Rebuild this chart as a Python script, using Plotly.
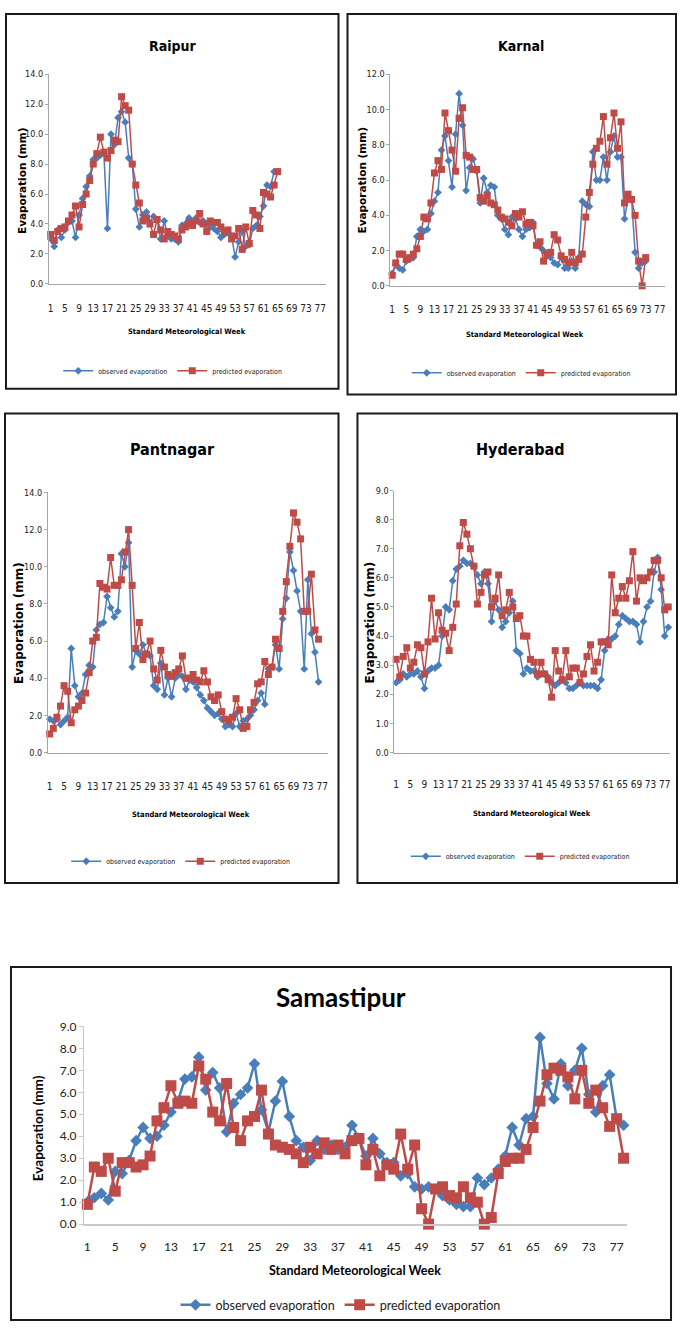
import plotly.graph_objects as go

W, H = 680, 1331
BLUE = "#4A7EBB"
RED = "#BE4B48"
NARROW = "DejaVu Sans Condensed, Liberation Sans Narrow, Roboto, sans-serif"
WIDEB = "DejaVu Sans, Verdana, sans-serif"
CAL = "Lato, Carlito, Calibri, sans-serif"

week_ticks = list(range(1, 78, 4))
week_tick_text = [str(w) for w in week_ticks]

raipur_observed = [3.0, 2.5, 3.6, 3.1, 3.6, 4.1, 4.2, 3.1, 4.6, 5.7,
                   6.5, 7.2, 8.3, 8.4, 8.6, 8.7, 3.7, 10.0, 9.3, 11.1,
                   11.5, 10.8, 8.4, 8.0, 5.0, 3.8, 4.6, 4.8, 4.1, 4.5,
                   4.3, 3.0, 4.2, 3.2, 3.0, 3.0, 2.8, 3.9, 4.0, 4.4,
                   4.1, 4.4, 4.1, 4.2, 4.0, 3.8, 3.7, 3.5, 3.1, 3.3,
                   3.4, 3.2, 1.8, 2.8, 3.5, 2.5, 2.6, 3.7, 3.9, 4.5,
                   5.2, 6.6, 6.5, 7.5, 7.5]
raipur_predicted = [3.3, 2.9, 3.5, 3.7, 3.8, 4.2, 4.6, 5.2, 3.8, 5.3,
                    6.0, 6.9, 8.0, 8.7, 9.8, 8.8, 8.4, 8.9, 9.6, 9.5,
                    12.5, 11.9, 11.6, 8.0, 6.6, 5.4, 4.2, 4.4, 4.0, 3.3,
                    4.3, 3.6, 3.0, 3.5, 3.3, 3.2, 3.0, 3.6, 3.8, 4.1,
                    3.9, 4.2, 4.7, 4.0, 3.5, 4.2, 4.1, 4.1, 3.8, 3.5,
                    3.6, 3.0, 3.2, 3.7, 2.3, 3.8, 2.7, 4.9, 4.6, 3.7,
                    6.1, 6.0, 5.8, 6.6, 7.5]

karnal_observed = [0.7, 1.2, 1.0, 0.9, 1.4, 1.5, 1.6, 2.8, 3.2, 3.1,
                   3.2, 4.1, 4.8, 5.3, 7.7, 8.5, 7.1, 5.6, 8.6, 10.9,
                   9.1, 5.4, 6.7, 7.2, 6.5, 4.7, 6.1, 5.3, 5.7, 5.6,
                   4.0, 3.8, 3.2, 2.9, 3.9, 3.8, 3.2, 2.8, 3.2, 3.3,
                   3.6, 2.3, 2.2, 2.0, 1.7, 1.6, 1.3, 1.2, 1.6, 1.0,
                   1.0, 1.4, 1.0, 1.6, 4.8, 4.6, 4.5, 7.6, 6.0, 6.0,
                   7.3, 6.0, 7.6, 8.5, 7.3, 7.3, 3.8, 5.0, 4.9, 1.9,
                   1.0, 1.3, 1.4]
karnal_predicted = [0.6, 1.3, 1.8, 1.8, 1.5, 1.6, 1.8, 2.1, 2.8, 3.9,
                    3.8, 4.7, 6.4, 7.1, 6.6, 9.8, 8.8, 7.7, 6.5, 9.5,
                    10.1, 7.4, 7.3, 6.6, 6.6, 5.0, 4.8, 5.1, 4.7, 4.6,
                    4.3, 3.9, 3.8, 3.6, 3.4, 4.1, 3.9, 4.2, 3.5, 3.6,
                    3.4, 2.3, 2.5, 1.4, 1.8, 1.9, 2.9, 2.6, 1.7, 1.5,
                    1.3, 1.9, 1.3, 1.5, 1.8, 3.9, 5.3, 6.9, 7.8, 8.2,
                    9.6, 6.9, 8.4, 9.8, 7.8, 9.3, 4.7, 5.2, 4.9, 4.0,
                    1.4, 0.0, 1.6]

pantnagar_observed = [1.8, 1.7, 1.8, 1.5, 1.7, 1.9, 5.6, 3.6, 3.0, 3.2,
                      4.2, 4.7, 4.6, 6.6, 6.9, 7.0, 8.4, 7.8, 7.3, 7.6,
                      10.7, 10.0, 11.3, 4.6, 5.5, 5.3, 5.8, 5.3, 5.2, 3.6,
                      3.4, 4.8, 3.1, 4.0, 3.0, 4.0, 4.2, 4.1, 3.4, 3.9,
                      3.8, 3.5, 3.1, 2.8, 2.4, 2.2, 2.0, 2.1, 1.8, 1.4,
                      1.5, 1.4, 2.1, 1.4, 1.7, 1.8, 2.0, 2.3, 2.8, 3.2,
                      2.6, 4.5, 4.6, 5.8, 4.5, 7.2, 8.3, 10.8, 9.8, 8.7,
                      7.6, 4.5, 9.3, 6.4, 5.4, 3.8]
pantnagar_predicted = [1.0, 1.3, 1.9, 2.5, 3.6, 3.3, 1.6, 2.3, 2.5, 2.8,
                       3.2, 4.3, 6.0, 6.2, 9.1, 8.9, 8.8, 10.5, 9.0, 9.0,
                       9.3, 10.8, 12.0, 9.0, 5.6, 7.0, 5.0, 5.3, 6.0, 4.5,
                       3.9, 5.5, 4.6, 4.2, 4.1, 4.3, 4.5, 5.2, 4.0, 4.0,
                       4.2, 3.9, 3.8, 4.4, 3.8, 3.0, 2.8, 3.1, 2.2, 1.8,
                       1.7, 1.9, 2.9, 2.3, 1.3, 1.4, 2.3, 2.7, 3.7, 3.8,
                       4.9, 4.2, 4.6, 6.1, 5.6, 7.6, 9.2, 11.1, 12.9, 12.4,
                       11.5, 7.6, 7.6, 9.6, 6.6, 6.1]

hyderabad_observed = [2.4, 2.5, 2.7, 2.6, 2.7, 2.7, 2.8, 2.6, 2.2, 2.8,
                      2.9, 2.9, 3.0, 4.0, 5.0, 4.9, 5.9, 6.3, 6.4, 6.6,
                      6.5, 6.5, 6.4, 6.1, 5.8, 6.2, 5.8, 4.5, 5.2, 4.9,
                      4.3, 4.5, 4.8, 5.2, 3.5, 3.4, 2.7, 2.9, 2.8, 2.8,
                      2.6, 2.7, 2.7, 2.6, 2.4, 2.3, 2.4, 2.5, 2.4, 2.2,
                      2.2, 2.3, 2.4, 2.3, 2.3, 2.3, 2.3, 2.2, 2.5, 3.5,
                      3.9, 3.9, 4.0, 4.4, 4.7, 4.6, 4.5, 4.5, 4.4, 3.8,
                      4.5, 5.0, 5.2, 6.2, 6.7, 5.6, 4.0, 4.3]
hyderabad_predicted = [3.2, 2.6, 3.3, 3.6, 2.9, 3.1, 3.7, 3.6, 2.7, 3.8,
                       5.3, 3.9, 4.8, 4.2, 4.1, 3.5, 4.3, 5.1, 7.1, 7.9,
                       7.5, 7.0, 6.4, 5.1, 5.5, 6.1, 6.2, 5.0, 5.3, 6.1,
                       4.7, 4.9, 5.5, 5.0, 4.6, 4.7, 4.0, 4.0, 3.2, 3.1,
                       2.7, 3.1, 2.7, 2.5, 1.9, 3.5, 2.8, 2.5, 3.5, 2.6,
                       2.9, 2.9, 2.4, 2.7, 3.3, 3.7, 2.8, 3.1, 3.8, 3.8,
                       3.7, 6.1, 4.8, 5.3, 5.7, 5.3, 5.9, 6.9, 5.2, 6.0,
                       5.9, 6.0, 6.2, 6.6, 6.6, 6.0, 4.9, 5.0]

samastipur_observed = [1.0, 1.2, 1.4, 1.1, 2.4, 2.3, 2.9, 3.8, 4.4, 3.9,
                       4.0, 4.5, 5.1, 5.6, 6.6, 6.7, 7.6, 6.1, 6.9, 6.2,
                       4.2, 5.5, 5.9, 6.2, 7.3, 5.2, 4.2, 5.6, 6.5, 4.9,
                       3.8, 3.5, 2.9, 3.8, 3.4, 3.6, 3.4, 3.5, 4.5, 3.9,
                       3.1, 3.9, 3.2, 2.8, 2.8, 2.2, 2.3, 1.7, 1.6, 1.7,
                       1.6, 1.3, 1.1, 0.9, 0.8, 0.8, 2.1, 1.8, 2.1, 2.5,
                       3.1, 4.4, 3.6, 4.8, 4.9, 8.5, 6.4, 5.7, 7.3, 6.3,
                       7.0, 8.0, 5.9, 5.1, 6.3, 6.8, 4.8, 4.5]
samastipur_predicted = [0.9, 2.6, 2.4, 3.0, 1.5, 2.8, 2.8, 2.6, 2.7, 3.1,
                        4.7, 5.3, 6.3, 5.5, 5.6, 5.5, 7.2, 6.6, 5.1, 4.7,
                        6.4, 4.4, 3.8, 4.7, 4.9, 6.1, 4.1, 3.6, 3.5, 3.4,
                        3.2, 2.8, 3.5, 3.2, 3.7, 3.4, 3.6, 3.2, 3.8, 3.9,
                        2.7, 3.4, 2.2, 2.7, 2.5, 4.1, 2.5, 3.6, 0.7, 0.0,
                        1.6, 1.7, 1.3, 1.2, 1.7, 1.2, 1.0, 0.0, 0.3, 2.3,
                        2.85, 3.0, 3.0, 3.4, 4.4, 5.6, 6.8, 7.1, 7.0, 6.7,
                        5.7, 7.0, 5.5, 6.1, 5.3, 4.45, 4.8, 3.0]


def fx(px):
    return px / W


def fy(py):
    return 1 - py / H


small = dict(tfont=NARROW, tsize=10, ytick=9, lw=1.5, ms_o=6, ms_p=7, axcol="#A6A6A6",
             ytfont=WIDEB, xtsize=7.5, lgsize=7, lgfont=NARROW,
             titlefont=NARROW, ticklen=3)
big = dict(tfont=CAL, tsize=12, ytick=12, lw=2.5, ms_o=9, ms_p=11, axcol="#C8C8C8",
           ytfont=CAL, xtsize=12.5, lgsize=12.5, lgfont=CAL,
           titlefont=CAL, ticklen=4)

panels = [
    dict(name="Raipur", obs=raipur_observed, pred=raipur_predicted, ymax=14, dtick=2,
         plot=(48, 325, 67, 279), box=(5, 338, 6, 385), title=(172, 38, 14),
         xtitle=(186, 327), ytitle=(21, 174, 10.5), legend=(172, 367), standoff=15, st=small),
    dict(name="Karnal", obs=karnal_observed, pred=karnal_predicted, ymax=12, dtick=2,
         plot=(390, 665, 67, 281), box=(347, 676, 6, 391), title=(521, 38, 14),
         xtitle=(525, 330), ytitle=(362, 174, 10.5), legend=(521, 369), standoff=14, st=small),
    dict(name="Pantnagar", obs=pantnagar_observed, pred=pantnagar_predicted, ymax=14, dtick=2,
         plot=(47, 327, 490, 753), box=(4, 338, 410, 885), title=(172, 447, 16),
         xtitle=(190, 816), ytitle=(18, 622, 12), legend=(180, 863), standoff=24, st=small),
    dict(name="Hyderabad", obs=hyderabad_observed, pred=hyderabad_predicted, ymax=9, dtick=1,
         plot=(394, 670, 488, 753), box=(357, 677, 410, 885), title=(520, 447, 16),
         xtitle=(532, 815), ytitle=(370, 621, 12), legend=(520, 858), standoff=22, st=small),
    dict(name="Samastipur", obs=samastipur_observed, pred=samastipur_predicted, ymax=9, dtick=1,
         plot=(83, 627, 1030, 1230), box=(10, 671, 970, 1327), title=(340, 1000, 26),
         xtitle=(355, 1277), ytitle=(37, 1133, 13.5), legend=(340, 1312), standoff=11, st=big),
]

fig = go.Figure()
layout = dict(width=W, height=H, margin=dict(l=0, r=0, t=0, b=0),
              paper_bgcolor="white", plot_bgcolor="white", showlegend=True)
annotations = []
shapes = []

for i, p in enumerate(panels, start=1):
    st = p["st"]
    sfx = "" if i == 1 else str(i)
    xa, ya, lg = "x" + sfx, "y" + sfx, "legend" + sfx
    weeks_o = list(range(1, len(p["obs"]) + 1))
    weeks_p = list(range(1, len(p["pred"]) + 1))
    fig.add_trace(go.Scatter(
        x=weeks_o, y=p["obs"], mode="lines+markers", name="observed evaporation",
        line=dict(color=BLUE, width=st["lw"]),
        marker=dict(symbol="diamond", size=st["ms_o"], color=BLUE),
        xaxis=xa, yaxis=ya, legend=lg, cliponaxis=False))
    fig.add_trace(go.Scatter(
        x=weeks_p, y=p["pred"], mode="lines+markers", name="predicted evaporation",
        line=dict(color=RED, width=st["lw"]),
        marker=dict(symbol="square", size=st["ms_p"], color=RED),
        xaxis=xa, yaxis=ya, legend=lg, cliponaxis=False))

    x0, x1, y0, y1 = p["plot"]
    layout["xaxis" + sfx] = dict(
        domain=[fx(x0), fx(x1)], anchor=ya, range=[0.5, 78.5],
        tickmode="array", tickvals=week_ticks, ticktext=week_tick_text,
        showgrid=False, zeroline=False, showline=True, linecolor=st["axcol"],
        linewidth=1.5 if st is big else 1, ticks="",
        tickfont=dict(family=st["tfont"], size=st["tsize"], color="#222222"),
        ticklabelstandoff=p["standoff"], fixedrange=True)
    layout["yaxis" + sfx] = dict(
        domain=[fy(y1), fy(y0)], anchor=xa, range=[0, p["ymax"]],
        dtick=p["dtick"], tick0=0, tickformat=".1f",
        showgrid=False, zeroline=False, showline=True, linecolor=st["axcol"],
        linewidth=1, ticks="outside", ticklen=st["ticklen"], tickcolor=st["axcol"],
        tickfont=dict(family=st["tfont"], size=st["ytick"], color="#222222"),
        fixedrange=True)

    lx, ly = p["legend"]
    layout[lg] = dict(
        orientation="h", x=fx(lx), xanchor="center", y=fy(ly), yanchor="middle",
        font=dict(family=st["lgfont"], size=st["lgsize"], color="#222222"),
        bgcolor="rgba(0,0,0,0)", itemwidth=30, tracegroupgap=0)

    tx, ty, ts = p["title"]
    annotations.append(dict(
        text="<b>%s</b>" % p["name"], x=fx(tx), y=fy(ty), xref="paper", yref="paper",
        showarrow=False, xanchor="center", yanchor="middle",
        font=dict(family=st["titlefont"], size=ts, color="black")))
    xtx, xty = p["xtitle"]
    annotations.append(dict(
        text="<b>Standard Meteorological Week</b>", x=fx(xtx), y=fy(xty),
        xref="paper", yref="paper", showarrow=False, xanchor="center", yanchor="middle",
        font=dict(family=st["titlefont"], size=st["xtsize"], color="black")))
    ytx, yty, yts = p["ytitle"]
    annotations.append(dict(
        text="<b>Evaporation (mm)</b>", x=fx(ytx), y=fy(yty), xref="paper", yref="paper",
        showarrow=False, xanchor="center", yanchor="middle", textangle=-90,
        font=dict(family=st["ytfont"], size=yts, color="black")))

    bx0, bx1, by0, by1 = p["box"]
    shapes.append(dict(type="rect", xref="paper", yref="paper",
                       x0=fx(bx0), x1=fx(bx1), y0=fy(by1), y1=fy(by0),
                       line=dict(color="#1a1a1a", width=2), fillcolor="rgba(0,0,0,0)"))

layout["annotations"] = annotations
layout["shapes"] = shapes
fig.update_layout(**layout)
fig.write_html("out.html",
               config={"displayModeBar": False},
               post_script="document.body.style.margin='0';"
                           "document.body.style.padding='0';"
                           "document.documentElement.style.overflow='hidden';")
